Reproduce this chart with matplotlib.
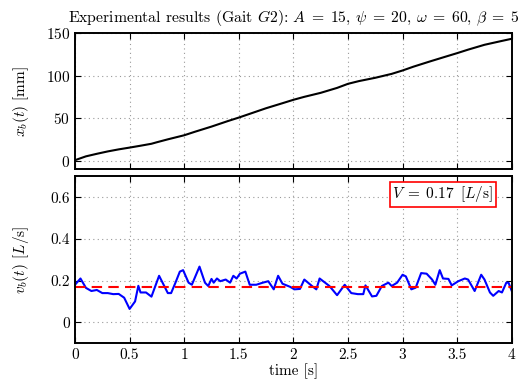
import matplotlib
matplotlib.use("Agg")
import matplotlib.pyplot as plt

# ---- data ----
t_pos = [0.0, 0.1, 0.2, 0.3, 0.4, 0.5, 0.6, 0.7, 0.75, 0.85, 1.0, 1.1, 1.25,
         1.4, 1.5, 1.6, 1.75, 1.9, 2.0, 2.1, 2.25, 2.4, 2.5, 2.6, 2.75, 2.9,
         3.0, 3.1, 3.25, 3.4, 3.5, 3.6, 3.75, 3.9, 4.0]
x_pos = [0.5, 5.0, 8.0, 10.8, 13.2, 15.3, 17.5, 19.8, 21.6, 25.0, 29.8, 34.0,
         40.0, 46.5, 50.6, 55.0, 61.6, 67.5, 71.5, 75.0, 79.7, 85.5, 90.3,
         93.5, 97.4, 102.0, 106.0, 110.5, 116.6, 122.5, 126.4, 130.5, 136.2,
         140.5, 143.3]

t_vel = [0.0, 0.05, 0.1, 0.15, 0.2, 0.25, 0.3, 0.35, 0.4, 0.45, 0.5, 0.55,
         0.58, 0.6, 0.65, 0.7, 0.77, 0.85, 0.88, 0.92, 0.96, 0.99, 1.04, 1.07,
         1.14, 1.19, 1.22, 1.25, 1.27, 1.3, 1.33, 1.38, 1.42, 1.45, 1.48, 1.51,
         1.56, 1.6, 1.66, 1.72, 1.77, 1.82, 1.86, 1.9, 1.97, 2.01, 2.06, 2.1,
         2.17, 2.21, 2.24, 2.29, 2.33, 2.4, 2.47, 2.53, 2.59, 2.64, 2.66, 2.72,
         2.76, 2.81, 2.87, 2.9, 2.95, 3.0, 3.03, 3.08, 3.12, 3.17, 3.22, 3.27,
         3.3, 3.34, 3.37, 3.42, 3.45, 3.51, 3.57, 3.6, 3.66, 3.72, 3.75, 3.8,
         3.83, 3.88, 3.91, 3.95, 3.97, 4.0]
v_vel = [0.18, 0.21, 0.165, 0.15, 0.155, 0.14, 0.14, 0.135, 0.136, 0.118,
         0.064, 0.10, 0.175, 0.143, 0.143, 0.123, 0.223, 0.14, 0.14, 0.19,
         0.243, 0.25, 0.19, 0.18, 0.267, 0.19, 0.174, 0.208, 0.19, 0.21, 0.197,
         0.205, 0.19, 0.223, 0.21, 0.233, 0.243, 0.18, 0.18, 0.19, 0.197,
         0.158, 0.223, 0.185, 0.17, 0.158, 0.16, 0.205, 0.174, 0.158, 0.21,
         0.19, 0.174, 0.13, 0.18, 0.14, 0.135, 0.135, 0.177, 0.124, 0.127,
         0.174, 0.19, 0.174, 0.19, 0.228, 0.22, 0.158, 0.166, 0.236, 0.233,
         0.205, 0.18, 0.25, 0.21, 0.208, 0.177, 0.197, 0.21, 0.205, 0.15,
         0.228, 0.205, 0.143, 0.127, 0.15, 0.143, 0.19, 0.19, 0.15]
v_mean = 0.17

plt.rcParams["font.family"] = ["cmr10", "DejaVu Serif"]
plt.rcParams["mathtext.fontset"] = "cm"
plt.rcParams["axes.formatter.use_mathtext"] = True
plt.rcParams["axes.unicode_minus"] = False
plt.rcParams["font.size"] = 11

fig = plt.figure(figsize=(5.32, 3.8), dpi=100)
ax1 = fig.add_axes([0.141, 0.555, 0.821, 0.358])
ax2 = fig.add_axes([0.141, 0.097, 0.821, 0.439])


def style(ax):
    ax.grid(True, linestyle=(0, (1, 3)), color="#999999", linewidth=0.8)
    ax.tick_params(direction="in", top=True, right=True, length=4, width=0.8,
                   labelsize=11)
    for s in ax.spines.values():
        s.set_linewidth(1.4)
    ax.set_xlim(0, 4)
    ax.set_xticks([0, 0.5, 1, 1.5, 2, 2.5, 3, 3.5, 4])


ax1.plot(t_pos, x_pos, color="black", linewidth=1.5)
style(ax1)
ax1.set_ylim(-10, 150)
ax1.set_yticks([0, 50, 100, 150])
ax1.set_xticklabels([])
ax1.set_ylabel(r"$x_b(t)$ [mm]")
ax1.set_title(r"Experimental results (Gait $G2$): $A\;=\;15$, $\psi\;=\;20$, "
              r"$\omega\;=\;60$, $\beta\;=\;5$", fontsize=11.3, pad=8)

ax2.plot(t_vel, v_vel, color="blue", linewidth=1.5)
ax2.axhline(v_mean, color="red", linestyle="--", linewidth=1.5, dashes=(5, 3))
style(ax2)
ax2.set_ylim(-0.1, 0.7)
ax2.set_yticks([0, 0.2, 0.4, 0.6])
ax2.set_xticklabels(["0", "0.5", "1", "1.5", "2", "2.5", "3", "3.5", "4"])
ax2.set_yticklabels(["0", "0.2", "0.4", "0.6"])
ax2.set_ylabel(r"$v_b(t)$ $[L/\mathrm{s}]$")
ax2.set_xlabel("time [s]", labelpad=1)
ax2.text(0.842, 0.892, r"$V\;=\;0.17\;\;[L/\mathrm{s}]$", transform=ax2.transAxes,
         ha="center", va="center", fontsize=11,
         bbox=dict(boxstyle="square,pad=0.15", facecolor="white", edgecolor="red", linewidth=1.2))

ax1.yaxis.set_label_coords(-0.1, 0.5)
ax2.yaxis.set_label_coords(-0.1, 0.5)

fig.savefig("out.png", dpi=100)
